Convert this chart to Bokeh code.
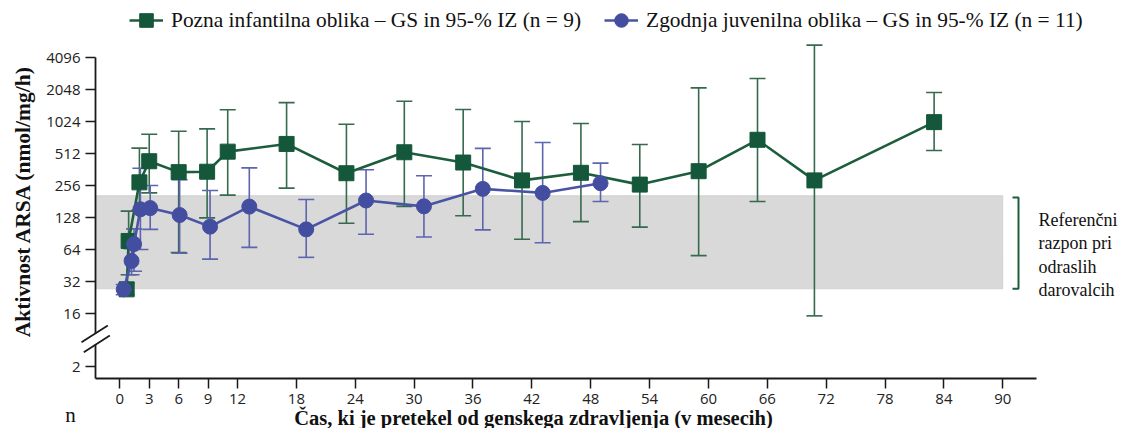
import numpy as np
from bokeh.plotting import figure
from bokeh.models import (Range1d, FixedTicker, ColumnDataSource, Whisker, TeeHead,
                          BoxAnnotation, Label, Legend, LegendItem, Arrow)
from bokeh.embed import file_html
from bokeh.resources import INLINE

# ---------------- data ----------------
# Late infantile (Pozna infantilna oblika) - geometric mean and 95% CI
months_li = [0.7, 0.9, 2.0, 3.0, 6.0, 8.9, 11.0, 17.0, 23.1, 29.0, 35.0, 41.0, 47.0, 53.0, 59.0, 65.0, 70.8, 83.0]
gm_li = [27, 77, 274, 433, 342, 345, 533, 630, 334, 526, 421, 286, 337, 261, 349, 689, 286, 1010]
lo_li = [24, 37, 150, 218, 60, 127, 208, 242, 113, 163, 133, 80, 117, 104, 56, 181, 15.2, 546]
hi_li = [31, 147, 575, 776, 830, 873, 1319, 1540, 966, 1590, 1330, 1024, 980, 622, 2120, 2600, 5350, 1920]

# Early juvenile (Zgodnja juvenilna oblika)
months_ej = [0.4, 1.2, 1.45, 2.1, 3.1, 6.1, 9.2, 13.2, 19.0, 25.1, 31.0, 37.0, 43.1, 49.0]
gm_ej = [27, 50, 72, 153, 157, 135, 105, 162, 99, 185, 163, 238, 218, 269]
lo_ej = [24, 37, 40, 64, 99, 59, 52, 67, 54, 89, 84, 98, 74, 181]
hi_ej = [30, 65, 100, 372, 256, 290, 230, 375, 189, 360, 316, 572, 650, 416]

# reference range in adult donors
ref_low, ref_high = 27.3, 206.0
ref_end_month = 90

x_ticks = [0, 3, 6, 9, 12, 18, 24, 30, 36, 42, 48, 54, 60, 66, 72, 78, 84, 90]
y_tick_values = [2, 16, 32, 64, 128, 256, 512, 1024, 2048, 4096]

label_li = "Pozna infantilna oblika \u2013 GS in 95-% IZ (n = 9)"
label_ej = "Zgodnja juvenilna oblika \u2013 GS in 95-% IZ (n = 11)"
ref_text = ["Referen\u010dni", "razpon pri", "odraslih", "darovalcih"]
x_title = "\u010cas, ki je pretekel od genskega zdravljenja (v mesecih)"
y_title = "Aktivnost ARSA (nmol/mg/h)"

# ---------------- styling ----------------
GREEN_M = "#14573a"
GREEN_L = "#1c5e3c"
GREEN_W = "#356a4c"
BLUE_M = "#444ea0"
BLUE_L = "#4a54a4"
BLUE_W = "#5c65ae"
AXIS_C = "#1a1a1a"
TEXT_C = "#111111"
SERIF = "Liberation Serif"
SANS = "Open Sans"

W, H = 1119, 428
PX_X = 9.811   # pixels per month
PX_Y = 32.0    # pixels per doubling
X_ORIGIN_PX = 119.3
Y_4096_PX = 57.0

# broken axis: value 2 drawn 53px below 16
Y_BREAK_2 = 4 - 53 / PX_Y


def ypos(v):
    return np.log2(np.asarray(v, dtype=float))


def mx(px):   # pixel column -> month coordinate
    return (px - X_ORIGIN_PX) / PX_X


def ly(py):   # pixel row -> log2 coordinate
    return 12 - (py - Y_4096_PX) / PX_Y


tick_pos = [Y_BREAK_2] + [float(np.log2(v)) for v in y_tick_values[1:]]
overrides = {pos: str(v) for pos, v in zip(tick_pos, y_tick_values)}

XS = mx(95)      # y-axis spine
XE = mx(1036)    # end of x axis line
YB = ly(378)     # x-axis line

p = figure(width=W, height=H, output_backend="svg", toolbar_location=None,
           x_range=Range1d(mx(0), mx(W)), y_range=Range1d(ly(H), ly(0)), title=None,
           min_border_left=0, min_border_right=0, min_border_top=0, min_border_bottom=0)
p.outline_line_color = None
p.xgrid.visible = False
p.ygrid.visible = False
p.background_fill_color = "white"
p.border_fill_color = "white"

# axes, fixed inside the frame
p.xaxis.ticker = FixedTicker(ticks=x_ticks)
p.yaxis.ticker = FixedTicker(ticks=tick_pos)
p.yaxis.major_label_overrides = overrides
p.xaxis.fixed_location = YB
p.yaxis.fixed_location = XS
p.xaxis.bounds = (XS, XE)
for ax in (p.xaxis[0], p.yaxis[0]):
    ax.major_tick_out = 10
    ax.major_tick_in = 0
    ax.minor_tick_line_color = None
    ax.major_tick_line_color = AXIS_C
    ax.major_tick_line_width = 1.5
    ax.axis_line_color = AXIS_C
    ax.axis_line_width = 1.8
    ax.major_label_text_font = SANS
    ax.major_label_text_font_size = "15px"
    ax.major_label_text_color = "#222222"
    ax.major_label_standoff = 5
p.yaxis.axis_line_color = None

# reference band
band = BoxAnnotation(left=XS, right=ref_end_month, bottom=float(np.log2(ref_low)),
                     top=float(np.log2(ref_high)),
                     fill_color="#d9d9d9", fill_alpha=1.0, line_color="#b5b5b5", line_width=1.2,
                     level="underlay")
p.add_layout(band)

src_li = ColumnDataSource(dict(x=months_li, y=ypos(gm_li), lo=ypos(lo_li), hi=ypos(hi_li)))
src_ej = ColumnDataSource(dict(x=months_ej, y=ypos(gm_ej), lo=ypos(lo_ej), hi=ypos(hi_ej)))

for src, col in ((src_li, GREEN_W), (src_ej, BLUE_W)):
    w = Whisker(base="x", upper="hi", lower="lo", source=src, dimension="height",
                line_color=col, line_width=1.6, level="underlay",
                upper_head=TeeHead(size=16, line_color=col, line_width=1.6),
                lower_head=TeeHead(size=16, line_color=col, line_width=1.6))
    p.add_layout(w)

gl = p.line("x", "y", source=src_li, line_color=GREEN_L, line_width=2.6)
gs = p.scatter("x", "y", source=src_li, marker="square", size=15,
               fill_color=GREEN_M, line_color=GREEN_M)
bl = p.line("x", "y", source=src_ej, line_color=BLUE_L, line_width=2.6)
bs = p.scatter("x", "y", source=src_ej, marker="circle", size=15,
               fill_color=BLUE_M, line_color=BLUE_M)

legend = Legend(items=[LegendItem(label=label_li, renderers=[gl, gs]),
                       LegendItem(label=label_ej, renderers=[bl, bs])],
                orientation="horizontal", location=(129, H - 37),
                glyph_width=34, glyph_height=34, label_standoff=8, spacing=23,
                padding=0, margin=0, background_fill_alpha=0, border_line_color=None,
                label_text_font=SERIF, label_text_font_size="21.4px",
                label_text_color=TEXT_C)
p.add_layout(legend)

# y-axis spine with break marks
spine_kw = dict(end=None, line_color=AXIS_C, line_width=1.8)
p.add_layout(Arrow(x_start=XS, y_start=12, x_end=XS, y_end=ly(333), **spine_kw))
p.add_layout(Arrow(x_start=XS, y_start=ly(344), x_end=XS, y_end=YB, **spine_kw))
p.add_layout(Arrow(x_start=mx(81), y_start=ly(341.7), x_end=mx(107.3), y_end=ly(325), **spine_kw))
p.add_layout(Arrow(x_start=mx(83.3), y_start=ly(351.7), x_end=mx(109.3), y_end=ly(335), **spine_kw))

# bracket for reference range
bt, bb = ly(197), float(np.log2(ref_low))
p.line(x=[mx(1012), mx(1018), mx(1018), mx(1012)], y=[bt, bt, bb, bb],
       line_color=GREEN_L, line_width=2)

for i, t in enumerate(ref_text):
    p.add_layout(Label(x=mx(1038), y=ly(219 + 23.5 * i), text=t,
                       text_font=SERIF, text_font_size="18px", text_color=TEXT_C,
                       text_align="left", text_baseline="alphabetic"))

# axis titles
p.add_layout(Label(x=mx(533), y=ly(417), text=x_title, text_font=SERIF,
                   text_font_style="bold", text_font_size="20.5px", text_color=TEXT_C,
                   text_align="center", text_baseline="alphabetic"))
p.add_layout(Label(x=mx(22), y=ly(200.5), text=y_title, text_font=SERIF, angle=np.pi / 2,
                   text_font_style="bold", text_font_size="21.5px", text_color=TEXT_C,
                   text_align="center", text_baseline="alphabetic" if False else "middle"))
p.add_layout(Label(x=mx(70), y=ly(414), text="n", text_font=SERIF,
                   text_font_size="21px", text_color=TEXT_C,
                   text_align="center", text_baseline="alphabetic"))

open("out.html", "w").write(file_html(p, INLINE))
